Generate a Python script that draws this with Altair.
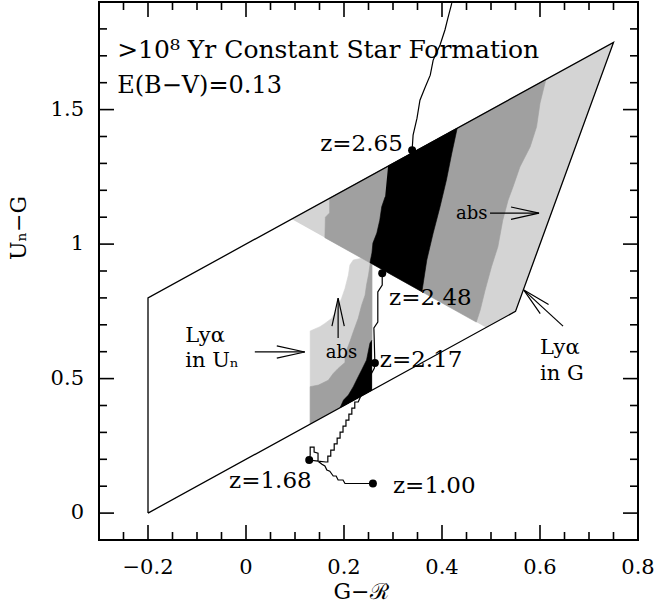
import altair as alt
import pandas as pd

SERIF = "DejaVu Serif"
X_DOMAIN = [-0.3, 0.8]
Y_DOMAIN = [-0.1, 1.9]
PLOT_W = 539
PLOT_H = 538

# axis ticks and their labels
X_MAJOR = [-0.2, 0.0, 0.2, 0.4, 0.6, 0.8]
X_LABELS = ["−0.2", "0", "0.2", "0.4", "0.6", "0.8"]
X_MINOR = [-0.25, -0.15, -0.1, -0.05, 0.05, 0.1, 0.15, 0.25, 0.3, 0.35,
           0.45, 0.5, 0.55, 0.65, 0.7, 0.75]
Y_MAJOR = [0.0, 0.5, 1.0, 1.5]
Y_LABELS = ["0", "0.5", "1", "1.5"]
Y_MINOR = [0.1, 0.2, 0.3, 0.4, 0.6, 0.7, 0.8, 0.9, 1.1, 1.2, 1.3, 1.4,
           1.6, 1.7, 1.8]
X_TITLE = "G−ℛ"
Y_TITLE = "Uₙ−G"

# colour-selection window
box_x = [-0.2, 0.55, 0.75, -0.2, -0.2]
box_y = [0.0, 0.75, 1.75, 0.8, 0.0]

# shaded redshift zones (light = any, medium = more, black = most)
upper_light_x = [0.093, 0.75, 0.55, 0.49]
upper_light_y = [1.093, 1.75, 0.75, 0.69]
upper_medium_x = [0.170, 0.612, 0.600, 0.593, 0.580, 0.559, 0.545, 0.535, 0.524,
                  0.514, 0.501, 0.488, 0.478, 0.470, 0.161, 0.162, 0.170]
upper_medium_y = [1.170, 1.612, 1.524, 1.436, 1.362, 1.287, 1.213, 1.164, 1.089,
                  0.990, 0.916, 0.829, 0.755, 0.710, 1.024, 1.100, 1.115]
upper_black_x = [0.290, 0.431, 0.420, 0.409, 0.396, 0.382, 0.369, 0.359, 0.253,
                 0.257, 0.259, 0.267, 0.273, 0.277, 0.284]
upper_black_y = [1.290, 1.431, 1.338, 1.238, 1.139, 1.041, 0.941, 0.823, 0.931,
                 0.967, 1.004, 1.041, 1.089, 1.139, 1.176]

lower_light_x = [0.131, 0.131, 0.151, 0.161, 0.175, 0.185, 0.195, 0.202, 0.209,
                 0.212, 0.219, 0.236, 0.257, 0.257]
lower_light_y = [0.331, 0.677, 0.693, 0.705, 0.724, 0.755, 0.798, 0.835, 0.885,
                 0.922, 0.941, 0.947, 0.947, 0.457]
lower_medium_x = [0.131, 0.131, 0.148, 0.168, 0.178, 0.188, 0.202, 0.202, 0.212,
                  0.219, 0.229, 0.236, 0.243, 0.246, 0.250, 0.253, 0.255, 0.257,
                  0.257]
lower_medium_y = [0.331, 0.470, 0.476, 0.494, 0.519, 0.538, 0.560, 0.590, 0.637,
                  0.674, 0.724, 0.773, 0.810, 0.848, 0.885, 0.922, 0.948, 0.948,
                  0.457]
lower_black_x = [0.257, 0.253, 0.246, 0.236, 0.229, 0.219, 0.209, 0.199, 0.192, 0.257]
lower_black_y = [0.643, 0.632, 0.569, 0.532, 0.507, 0.470, 0.439, 0.420, 0.392, 0.457]

# model track from z=1.00 upward in redshift
track_x = [0.259, 0.202, 0.198, 0.188, 0.184, 0.178, 0.171, 0.165, 0.161, 0.155,
           0.147, 0.129, 0.131, 0.131, 0.139, 0.139, 0.147, 0.147, 0.163, 0.167,
           0.167, 0.173, 0.173, 0.180, 0.180, 0.186, 0.186, 0.192, 0.192, 0.198,
           0.198, 0.204, 0.204, 0.210, 0.210, 0.216, 0.216, 0.222, 0.222, 0.229,
           0.237, 0.245, 0.253, 0.262, 0.263, 0.261, 0.269, 0.269, 0.278, 0.278,
           0.290, 0.305, 0.320, 0.339, 0.341, 0.349, 0.355, 0.365, 0.376, 0.382,
           0.396, 0.406, 0.412, 0.420]
track_y = [0.110, 0.110, 0.123, 0.123, 0.138, 0.138, 0.156, 0.160, 0.175, 0.182,
           0.193, 0.197, 0.216, 0.245, 0.245, 0.227, 0.223, 0.193, 0.190, 0.190,
           0.212, 0.212, 0.234, 0.234, 0.257, 0.257, 0.279, 0.279, 0.301, 0.301,
           0.323, 0.323, 0.346, 0.346, 0.368, 0.368, 0.390, 0.390, 0.413, 0.413,
           0.446, 0.476, 0.509, 0.539, 0.558, 0.688, 0.710, 0.822, 0.848, 0.892,
           1.000, 1.120, 1.230, 1.349, 1.405, 1.468, 1.535, 1.580, 1.628, 1.684,
           1.740, 1.796, 1.840, 1.896]

# marked redshifts
z_x = [0.259, 0.129, 0.263, 0.278, 0.339]
z_y = [0.110, 0.197, 0.558, 0.892, 1.349]

# annotations
head_text = [">10⁸ Yr Constant Star Formation", "E(B−V)=0.13"]
head_text_x = [-0.263, -0.263]
head_text_y = [1.691, 1.561]
head_text_size = [25, 24]
left_text = ["z=2.48", "z=2.17", "z=1.00"]
left_text_x = [0.292, 0.273, 0.300]
left_text_y = [0.773, 0.543, 0.074]
right_text = ["z=2.65", "z=1.68"]
right_text_x = [0.320, 0.134]
right_text_y = [1.346, 0.093]
lya_text = ["Lyα", "in  Uₙ", "Lyα", "in  G"]
lya_text_x = [-0.124, -0.124, 0.600, 0.600]
lya_text_y = [0.636, 0.543, 0.591, 0.494]
abs_text = ["abs", "abs"]
abs_text_x = [0.493, 0.195]
abs_text_y = [1.093, 0.576]
abs_align = ["right", "center"]

# arrows: tail -> tip, tip direction in degrees (screen, clockwise)
arrow_x = [0.498, 0.188, 0.018, 0.647]
arrow_y = [1.115, 0.651, 0.599, 0.695]
arrow_x2 = [0.598, 0.188, 0.120, 0.567]
arrow_y2 = [1.115, 0.799, 0.599, 0.829]
arrow_angle = [0.0, 270.0, 0.0, 222.7]

LIGHT = "#d4d4d4"
MEDIUM = "#a0a0a0"
DARK = "#000000"

xs = alt.Scale(domain=X_DOMAIN, nice=False, zero=False)
ys = alt.Scale(domain=Y_DOMAIN, nice=False, zero=False)

# data units per screen pixel, used for offsets around the frame
x_unit = (X_DOMAIN[1] - X_DOMAIN[0]) / PLOT_W
y_unit = (Y_DOMAIN[1] - Y_DOMAIN[0]) / PLOT_H


def polys(pairs):
    rows = []
    for name, vx, vy in pairs:
        for i, (a, b) in enumerate(zip(vx, vy)):
            rows.append({"region": name, "idx": i, "x": a, "y": b})
    return pd.DataFrame(rows)


def px(field="x"):
    return alt.X(f"{field}:Q", scale=xs, axis=None)


def py(field="y"):
    return alt.Y(f"{field}:Q", scale=ys, axis=None)


# inward-pointing ticks on all four sides of the frame (lengths in pixels)
tick_rows = []
for vals, length in ((X_MAJOR, 15), (X_MINOR, 8)):
    for v in vals:
        tick_rows.append({"x": v, "x2": v, "y": Y_DOMAIN[0], "y2": Y_DOMAIN[0] + length * y_unit})
        tick_rows.append({"x": v, "x2": v, "y": Y_DOMAIN[1], "y2": Y_DOMAIN[1] - length * y_unit})
for vals, length in ((Y_MAJOR, 15), (Y_MINOR, 8)):
    for v in vals:
        tick_rows.append({"x": X_DOMAIN[0], "x2": X_DOMAIN[0] + length * x_unit, "y": v, "y2": v})
        tick_rows.append({"x": X_DOMAIN[1], "x2": X_DOMAIN[1] - length * x_unit, "y": v, "y2": v})
ticks = alt.Chart(pd.DataFrame(tick_rows)).mark_rule(color="black", strokeWidth=1.6).encode(
    x=px(), y=py(), x2="x2:Q", y2="y2:Q")

# tick labels and axis titles, set just outside the frame
x_label_df = pd.DataFrame({"t": X_LABELS, "x": X_MAJOR, "y": [Y_DOMAIN[0]] * len(X_MAJOR)})
x_labels = alt.Chart(x_label_df).mark_text(
    align="center", baseline="top", dy=17, font=SERIF, fontSize=21, color="black").encode(
    x=px(), y=py(), text="t:N")
y_label_df = pd.DataFrame({"t": Y_LABELS, "x": [X_DOMAIN[0]] * len(Y_MAJOR), "y": Y_MAJOR})
y_labels = alt.Chart(y_label_df).mark_text(
    align="right", baseline="middle", dx=-15, font=SERIF, fontSize=21, color="black").encode(
    x=px(), y=py(), text="t:N")
x_title = alt.Chart(pd.DataFrame({"t": [X_TITLE], "x": [X_DOMAIN[0] + 262 * x_unit],
                                  "y": [Y_DOMAIN[0] - 42 * y_unit]})).mark_text(
    align="center", baseline="top", font=SERIF, fontSize=22, color="black").encode(
    x=px(), y=py(), text="t:N")
y_title = alt.Chart(pd.DataFrame({"t": [Y_TITLE], "x": [X_DOMAIN[0] - 80 * x_unit],
                                  "y": [Y_DOMAIN[1] - 226 * y_unit]})).mark_text(
    align="center", baseline="middle", angle=270, font=SERIF, fontSize=22,
    color="black").encode(x=px(), y=py(), text="t:N")


def filled(df, color):
    return alt.Chart(df).mark_line(fill=color, stroke=color, strokeWidth=0.6).encode(
        x=px(), y=py(), order="idx:Q", detail="region:N")


light = filled(polys([("upper", upper_light_x, upper_light_y),
                      ("lower", lower_light_x, lower_light_y)]), LIGHT)
medium = filled(polys([("upper", upper_medium_x, upper_medium_y),
                       ("lower", lower_medium_x, lower_medium_y)]), MEDIUM)
dark = filled(polys([("upper", upper_black_x, upper_black_y),
                     ("lower", lower_black_x, lower_black_y)]), DARK)

box_df = pd.DataFrame({"idx": range(len(box_x)), "x": box_x, "y": box_y})
box = alt.Chart(box_df).mark_line(color="black", strokeWidth=1.3).encode(
    x=px(), y=py(), order="idx:Q")

track_df = pd.DataFrame({"idx": range(len(track_x)), "x": track_x, "y": track_y})
track = alt.Chart(track_df).mark_line(color="black", strokeWidth=1.2).encode(
    x=px(), y=py(), order="idx:Q")

dots = alt.Chart(pd.DataFrame({"x": z_x, "y": z_y})).mark_circle(
    color="black", size=64, opacity=1).encode(x=px(), y=py())

head_df = pd.DataFrame({"t": head_text, "x": head_text_x, "y": head_text_y,
                        "s": head_text_size})
head_labels = alt.Chart(head_df).mark_text(
    align="left", baseline="alphabetic", font=SERIF, color="black").encode(
    x=px(), y=py(), text="t:N", size=alt.Size("s:Q", scale=None, legend=None))
left_labels = alt.Chart(pd.DataFrame({"t": left_text, "x": left_text_x, "y": left_text_y})
                        ).mark_text(align="left", baseline="alphabetic", font=SERIF,
                                    fontSize=23, color="black").encode(
    x=px(), y=py(), text="t:N")
right_labels = alt.Chart(pd.DataFrame({"t": right_text, "x": right_text_x, "y": right_text_y})
                         ).mark_text(align="right", baseline="alphabetic", font=SERIF,
                                     fontSize=23, color="black").encode(
    x=px(), y=py(), text="t:N")
lya_labels = alt.Chart(pd.DataFrame({"t": lya_text, "x": lya_text_x, "y": lya_text_y})
                       ).mark_text(align="left", baseline="alphabetic", font=SERIF,
                                   fontSize=21, color="black").encode(
    x=px(), y=py(), text="t:N")
abs_df = pd.DataFrame({"t": abs_text, "x": abs_text_x, "y": abs_text_y, "a": abs_align})
abs_right = alt.Chart(abs_df[abs_df.a == "right"]).mark_text(
    align="right", baseline="alphabetic", font=SERIF, fontSize=18, color="black").encode(
    x=px(), y=py(), text="t:N")
abs_center = alt.Chart(abs_df[abs_df.a == "center"]).mark_text(
    align="center", baseline="alphabetic", font=SERIF, fontSize=18, color="black").encode(
    x=px(), y=py(), text="t:N")

arrow_df = pd.DataFrame({"x": arrow_x, "y": arrow_y, "x2": arrow_x2, "y2": arrow_y2,
                         "angle": arrow_angle})
shafts = alt.Chart(arrow_df).mark_rule(color="black", strokeWidth=1.2).encode(
    x=px(), y=py(), x2="x2:Q", y2="y2:Q")
heads = alt.Chart(arrow_df).mark_point(
    shape="M-1,-0.22L0,0L-1,0.22", filled=False, size=3136, color="black",
    strokeWidth=1.2, opacity=1).encode(
    x=px("x2"), y=py("y2"), angle=alt.Angle("angle:Q", scale=None))

chart = alt.layer(
    ticks, light, medium, dark, box, track, dots, shafts, heads,
    head_labels, left_labels, right_labels, lya_labels, abs_right, abs_center,
    x_labels, y_labels, x_title, y_title,
).properties(
    width=PLOT_W, height=PLOT_H,
    padding={"left": 99, "top": 2, "right": 19, "bottom": 68},
    autosize=alt.AutoSizeParams(type="none"),
    background="white",
).configure_view(stroke="black", strokeWidth=2)

chart.save("out.html", embed_options={"renderer": "svg", "actions": False})
